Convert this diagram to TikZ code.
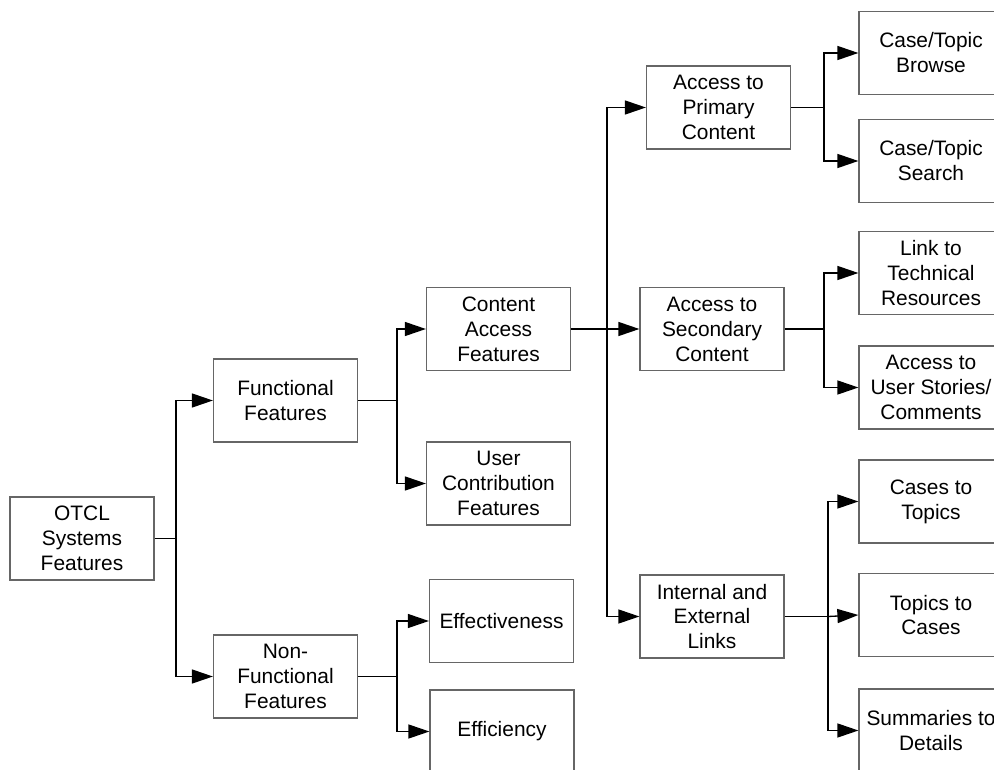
\documentclass[tikz,border=0pt]{standalone}
\usepackage{fontspec}
\setmainfont{Liberation Sans}
\usetikzlibrary{arrows.meta}
\tikzset{
  featbox/.style={draw=black!60, line width=0.7pt, fill=white, inner sep=0pt,
    minimum width=2.88cm, minimum height=1.66cm, align=center,
    font=\fontsize{11.9}{14.2}\selectfont},
  link/.style={draw=black, line width=0.75pt},
  arr/.style={link, -{Triangle[length=0.42cm, width=0.28cm]}}
}

\begin{document}
\begin{tikzpicture}[x=0.02cm, y=-0.02cm]

			\useasboundingbox (0, 0) rectangle (994, 770);
			\clip (0, 0) rectangle (994, 770);

			% first and second levels
			\node[featbox] (otcl) at (82, 538.5) {OTCL\\Systems\\Features};
			\node[featbox] (func) at (285.5, 400.5) {Functional\\Features};
			\node[featbox] (nonfunc) at (285.5, 676.5) {Non-\\Functional\\Features};

			% third level
			\node[featbox] (content) at (498.5, 329) {Content\\Access\\Features};
			\node[featbox] (usercontrib) at (498.5, 483.5) {User\\Contribution\\Features};
			\node[featbox] (effect) at (501.5, 621) {Effectiveness};
			\node[featbox] (effic) at (502, 731.5) {Efficiency};

			% fourth level
			\node[featbox] (primary) at (718.5, 107.5) {Access to\\Primary\\Content};
			\node[featbox] (secondary) at (712, 329) {Access to\\Secondary\\Content};
			\node[featbox] (links) at (712, 616.5) {Internal and\\External\\Links};

			% fifth level
			\node[featbox] (browse) at (931, 53) {Case/Topic\\Browse};
			\node[featbox] (search) at (931, 161) {Case/Topic\\Search};
			\node[featbox] (technical) at (931, 273) {Link to\\Technical\\Resources};
			\node[featbox] (stories) at (931, 387.5) {Access to\\User Stories/\\Comments};
			\node[featbox] (casetopic) at (931, 501.5) {Cases to\\Topics};
			\node[featbox] (topiccase) at (931, 615) {Topics to\\Cases};
			\node[featbox] (summaries) at (931, 730.5) {Summaries to\\Details};

			% junctions
			\coordinate (jotcl) at (176, 538.5);
			\coordinate (jfunc) at (397, 400.5);
			\coordinate (jnonfunc) at (397, 676.5);
			\coordinate (jcontent) at (607, 329);
			\coordinate (jprimary) at (824, 107.5);
			\coordinate (jsecondary) at (824, 329);
			\coordinate (jlinks) at (828, 616.5);

			\draw[link] (otcl.east) -- (jotcl);
			\draw[arr] (jotcl) |- (func.west);
			\draw[arr] (jotcl) |- (nonfunc.west);

			\draw[link] (func.east) -- (jfunc);
			\draw[arr] (jfunc) |- (content.west);
			\draw[arr] (jfunc) |- (usercontrib.west);

			\draw[link] (nonfunc.east) -- (jnonfunc);
			\draw[arr] (jnonfunc) |- (effect.west);
			\draw[arr] (jnonfunc) |- (effic.west);

			\draw[link] (content.east) -- (jcontent);
			\draw[arr] (jcontent) |- (primary.west);
			\draw[arr] (jcontent) -- (secondary.west);
			\draw[arr] (jcontent) |- (links.west);

			\draw[link] (primary.east) -- (jprimary);
			\draw[arr] (jprimary) |- (browse.west);
			\draw[arr] (jprimary) |- (search.west);

			\draw[link] (secondary.east) -- (jsecondary);
			\draw[arr] (jsecondary) |- (technical.west);
			\draw[arr] (jsecondary) |- (stories.west);

			\draw[link] (links.east) -- (jlinks);
			\draw[arr] (jlinks) |- (casetopic.west);
			\draw[arr] (jlinks) -- (topiccase.west);
			\draw[arr] (jlinks) |- (summaries.west);
		\end{tikzpicture}
\end{document}
